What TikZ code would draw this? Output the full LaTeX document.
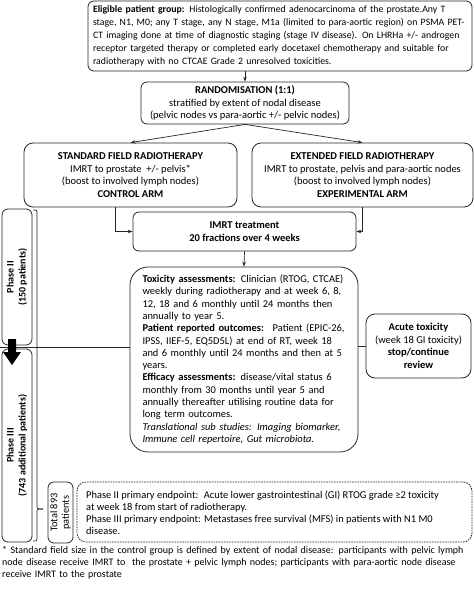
\documentclass[tikz,border=0pt]{standalone}
\usepackage{fontspec}
\setmainfont{Carlito}
\usetikzlibrary{arrows.meta,calc}
\newcommand{\fillline}[1]{\noindent\makebox[\hsize][s]{#1}\par}
\newcommand{\lastline}[1]{\noindent #1\par}
\begin{document}
\begin{tikzpicture}[x=1pt,y=-1pt,
  box/.style={draw=black!85, rounded corners=6pt, line width=0.8pt, inner sep=0pt, align=center, font=\fontsize{10.5}{12.6}\selectfont},
  arr/.style={-{Stealth[length=5pt,width=3.6pt]}, line width=0.7pt, draw=black!85},
  ln/.style={line width=0.7pt, draw=black!85},
  txt/.style={inner sep=0pt, font=\fontsize{10.45}{12}\selectfont}]
\useasboundingbox (0,0) rectangle (474,590);

\node[box, minimum width=384pt, minimum height=70pt, text width=374pt, align=left, font=\fontsize{9.8}{12.9}\selectfont] (elig) at (280,36)
{\fillline{\textbf{Eligible patient group:} Histologically confirmed adenocarcinoma of the prostate.Any T}
\fillline{stage, N1, M0; any T stage, any N stage, M1a (limited to para-aortic region) on PSMA PET-}
\fillline{CT imaging done at time of diagnostic staging (stage IV disease). On LHRHa +/- androgen}
\fillline{receptor targeted therapy or completed early docetaxel chemotherapy and suitable for}
\lastline{radiotherapy with no CTCAE Grade 2 unresolved toxicities.}};

\node[box, minimum width=208pt, minimum height=42pt] (rand) at (245,103)
{\textbf{RANDOMISATION (1:1)}\\stratified by extent of nodal disease\\(pelvic nodes vs para-aortic +/- pelvic nodes)};

\node[box, rounded corners=9pt, minimum width=213pt, minimum height=64pt] (std) at (130.5,175)
{\textbf{STANDARD FIELD RADIOTHERAPY}\\IMRT to prostate \ +/- pelvis*\\(boost to involved lymph nodes)\\\textbf{CONTROL ARM}};

\node[box, rounded corners=9pt, minimum width=221pt, minimum height=64pt] (ext) at (362.5,175)
{\textbf{EXTENDED FIELD RADIOTHERAPY}\\IMRT to prostate, pelvis and para-aortic nodes\\(boost to involved lymph nodes)\\\textbf{EXPERIMENTAL ARM}};

\node[box, minimum width=223pt, minimum height=39pt] (imrt) at (244.5,231.5)
{\textbf{IMRT treatment}\\\textbf{20 fractions over 4 weeks}};

\node[box, rounded corners=18pt, minimum width=228pt, minimum height=185pt, text width=203pt, align=left, font=\fontsize{10.45}{12.3}\selectfont] (tox) at (244,359.5)
{\fillline{\textbf{Toxicity assessments:} Clinician (RTOG, CTCAE)}
\fillline{weekly during radiotherapy and at week 6, 8,}
\fillline{12, 18 and 6 monthly until 24 months then}
\lastline{annually to year 5.}
\fillline{\textbf{Patient reported outcomes:} \ Patient (EPIC-26,}
\fillline{IPSS, IIEF-5, EQ5D5L) at end of RT, week 18}
\fillline{and 6 monthly until 24 months and then at 5}
\lastline{years.}
\fillline{\textbf{Efficacy assessments:} disease/vital status 6}
\fillline{monthly from 30 months until year 5 and}
\fillline{annually thereafter utilising routine data for}
\lastline{long term outcomes.}
\fillline{\itshape Translational sub studies: Imaging biomarker,}
\lastline{\itshape Immune cell repertoire, Gut microbiota.}};

\node[box, rounded corners=9pt, minimum width=105pt, minimum height=64pt] (acute) at (418.5,346)
{\textbf{Acute toxicity}\\(week 18 GI toxicity)\\\textbf{stop/continue}\\\textbf{review}};

\node[box, rotate=90, minimum width=136pt, minimum height=30pt, font=\bfseries\fontsize{10}{12}\selectfont] (ph2) at (17,277)
{Phase II\\(150 patients)};
\node[box, rotate=90, minimum width=193pt, minimum height=30pt, font=\bfseries\fontsize{10}{12}\selectfont] (ph3) at (17,445.5)
{Phase III\\(743 additional patients)};

\node[box, rotate=90, minimum width=61pt, minimum height=25pt, font=\fontsize{10.3}{11.5}\selectfont] (tot) at (60.5,512.5)
{Total 893\\patients};

\node[box, dash pattern=on 1.6pt off 1pt, rounded corners=9pt, minimum width=395pt, minimum height=60pt] (endp) at (274.5,512) {};
\node[txt, anchor=west, align=left] (endt) at (86,513)
{Phase II primary endpoint: \ Acute lower gastrointestinal (GI) RTOG grade ≥2 toxicity\\
at week 18 from start of radiotherapy.\\
Phase III primary endpoint: Metastases free survival (MFS) in patients with N1 M0\\
disease.};

\node[txt, anchor=north west, text width=470pt, align=left, font=\fontsize{10}{12}\selectfont] (foot) at (2,546)
{\fillline{* Standard field size in the control group is defined by extent of nodal disease: participants with pelvic lymph}
\fillline{node disease receive IMRT to \ the prostate + pelvic lymph nodes; participants with para-aortic node disease}
\lastline{receive IMRT to the prostate}};

% connectors
\draw[arr] (elig.south -| rand.north) -- (rand.north);
\draw[arr] (rand.south) -- (std.north);
\draw[arr] (rand.south) -- (ext.north);
\draw[arr] ([xshift=-15pt]std.south) |- (imrt.west);
\draw[arr] (ext.south) |- (imrt.east);
\draw[arr] (imrt.south) -- (tox.north);
\draw[ln] (tox.east |- acute.west) -- (acute.west);
\coordinate (hl) at (0,347);
\draw[ln] (hl) -- (hl -| tox.west);

% brace
\coordinate (bt) at (33,210);
\coordinate (bb) at (33,541);
\coordinate (btip) at (43,509);
\draw[ln] (bt) .. controls (37,210) .. (37,214) -- (37,505) .. controls (37,509) .. (btip);
\draw[ln] (btip) .. controls (37,509) .. (37,513) -- (37,537) .. controls (37,541) .. (bb);

% thick arrow
\fill[black] (8,339) -- (16,339) -- (16,352) -- (21,352) -- (12,365) -- (3,352) -- (8,352) -- cycle;
\end{tikzpicture}
\end{document}
